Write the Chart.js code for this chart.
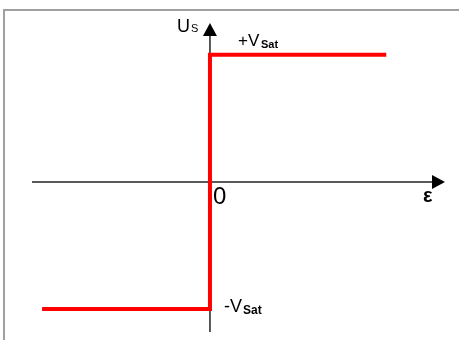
<!DOCTYPE html>
<html>
<head>
<meta charset="utf-8">
<script src="https://cdn.jsdelivr.net/npm/chart.js@4/dist/chart.umd.min.js"></script>
<style>
body { margin: 0; background: #fff; }
#wrap { position: relative; width: 459px; height: 340px; }
#frame { position: absolute; left: 3px; top: 9px; right: 0; bottom: 0; border-top: 2px solid #a0a0a0; border-left: 2px solid #a0a0a0; }
canvas { position: absolute; left: 0; top: 0; }
</style>
</head>
<body>
<div id="wrap">
  <div id="frame"></div>
  <canvas id="graph" width="459" height="340"></canvas>
</div>
<script>
// caractéristique de transfert du comparateur : Us en fonction de epsilon
const epsilon = [-1, 0, 0, 1.05];
const us = [-1, -1, 1, 1];
const xRange = [-1.06, 1.4];
const yRange = [-1.18, 1.25];

const FONT = '"Liberation Sans", Arial, sans-serif';

// axes avec flèches + textes, placés via les échelles de Chart.js
const axesPlugin = {
    id: 'axes',
    beforeDatasetsDraw(chart) {
        const { ctx, chartArea, scales: { x, y } } = chart;
        const x0 = x.getPixelForValue(0);
        const y0 = y.getPixelForValue(0);
        ctx.save();
        ctx.strokeStyle = '#222';
        ctx.fillStyle = '#000';
        ctx.lineWidth = 1.5;

        // axe horizontal
        ctx.beginPath();
        ctx.moveTo(chartArea.left, y0);
        ctx.lineTo(chartArea.right - 10, y0);
        ctx.stroke();
        ctx.beginPath();
        ctx.moveTo(chartArea.right, y0);
        ctx.lineTo(chartArea.right - 13, y0 - 7);
        ctx.lineTo(chartArea.right - 13, y0 + 7);
        ctx.closePath();
        ctx.fill();

        // axe vertical
        ctx.beginPath();
        ctx.moveTo(x0, chartArea.bottom);
        ctx.lineTo(x0, chartArea.top + 8);
        ctx.stroke();
        ctx.beginPath();
        ctx.moveTo(x0, chartArea.top);
        ctx.lineTo(x0 - 7, chartArea.top + 13);
        ctx.lineTo(x0 + 7, chartArea.top + 13);
        ctx.closePath();
        ctx.fill();
        ctx.restore();
    },
    afterDraw(chart) {
        const { ctx, scales: { x, y } } = chart;
        const x0 = x.getPixelForValue(0);
        const y0 = y.getPixelForValue(0);
        const yTop = y.getPixelForValue(1);
        const yBot = y.getPixelForValue(-1);
        const xEnd = x.getPixelForValue(xRange[1]);
        ctx.save();
        ctx.fillStyle = '#000';
        ctx.textBaseline = 'alphabetic';

        ctx.font = '18px ' + FONT;
        ctx.fillText('U', x0 - 33, 32);
        ctx.font = '11px ' + FONT;
        ctx.fillText('S', x0 - 19, 32);

        ctx.font = '17px ' + FONT;
        ctx.fillText('+V', x0 + 28, yTop - 9);
        ctx.font = 'bold 11px ' + FONT;
        ctx.fillText('Sat', x0 + 51, yTop - 7);

        ctx.font = '24px ' + FONT;
        ctx.fillText('0', x0 + 3, y0 + 22);

        ctx.font = 'bold 20px ' + FONT;
        ctx.fillText('ε', xEnd - 22, y0 + 20);

        ctx.font = '18px ' + FONT;
        ctx.fillText('-V', x0 + 14, yBot + 3);
        ctx.font = 'bold 12px ' + FONT;
        ctx.fillText('Sat', x0 + 33, yBot + 5);
        ctx.restore();
    }
};

const ctx = document.getElementById('graph').getContext('2d');
new Chart(ctx, {
    type: 'line',
    data: {
        datasets: [{
            data: epsilon.map((e, i) => ({ x: e, y: us[i] })),
            borderColor: '#ff0000',
            borderWidth: 4,
            pointRadius: 0,
            tension: 0,
            fill: false,
            borderCapStyle: 'butt',
            borderJoinStyle: 'miter'
        }]
    },
    options: {
        responsive: false,
        animation: false,
        layout: { padding: { left: 32, right: 14, top: 23, bottom: 8 } },
        plugins: {
            legend: { display: false },
            tooltip: { enabled: false }
        },
        scales: {
            x: { type: 'linear', min: xRange[0], max: xRange[1], display: false },
            y: { type: 'linear', min: yRange[0], max: yRange[1], display: false }
        }
    },
    plugins: [axesPlugin]
});
</script>
</body>
</html>
